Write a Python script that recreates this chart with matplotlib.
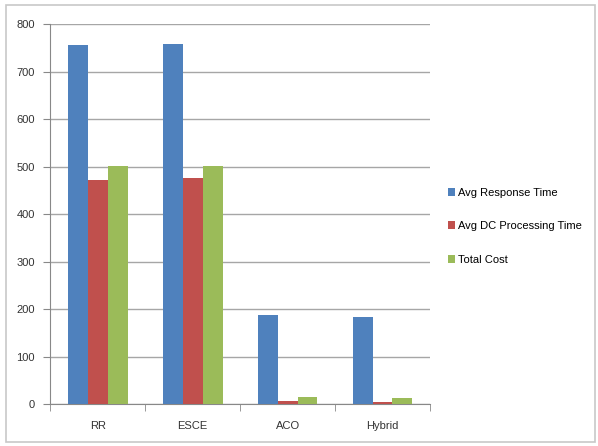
import matplotlib.pyplot as plt
import numpy as np
from matplotlib.patches import Rectangle

categories = ["RR", "ESCE", "ACO", "Hybrid"]
avg_response = [756, 758, 187, 183]
avg_dc_processing = [472, 476, 6, 4]
total_cost = [501, 501, 14, 12]

series = [
    ("Avg Response Time", avg_response, "#4f81bd"),
    ("Avg DC Processing Time", avg_dc_processing, "#c0504d"),
    ("Total Cost", total_cost, "#9bbb59"),
]

plt.rcParams["font.family"] = ["Liberation Sans", "DejaVu Sans"]

fig = plt.figure(figsize=(5.98, 4.46), dpi=100)
fig.patches.append(Rectangle((0.01, 0.008), 0.985, 0.98, transform=fig.transFigure,
                             fill=False, edgecolor="#c8c8c8", linewidth=1.2))
ax = fig.add_axes([0.084, 0.094, 0.635, 0.852])

x = np.arange(len(categories))
w = 0.21
for i, (label, vals, color) in enumerate(series):
    ax.bar(x + (i - 1) * w, vals, w, label=label, color=color, zorder=3)

ax.set_xlim(-0.5, len(categories) - 0.5)
ax.set_ylim(0, 800)
ax.set_yticks(range(0, 801, 100))
ax.yaxis.grid(True, color="#a6a6a6", linewidth=1.0, zorder=0)
ax.set_xticks(x)
ax.set_xticklabels(categories)
ax.set_xticks(np.arange(-0.5, len(categories)), minor=True)
ax.tick_params(axis="x", which="major", length=0, pad=12, labelsize=8, colors="#333333")
ax.tick_params(axis="x", which="minor", length=5, color="#888888")
ax.tick_params(axis="y", length=5, color="#888888", labelsize=8, colors="#333333", pad=6)
for s in ["top", "right"]:
    ax.spines[s].set_visible(False)
for s in ["left", "bottom"]:
    ax.spines[s].set_color("#888888")

ax.legend(loc="center left", bbox_to_anchor=(1.02, 0.468), frameon=False, fontsize=8,
          handlelength=0.7, handleheight=0.7, handletextpad=0.2, labelspacing=2.1)

fig.savefig("out.png", dpi=100)
